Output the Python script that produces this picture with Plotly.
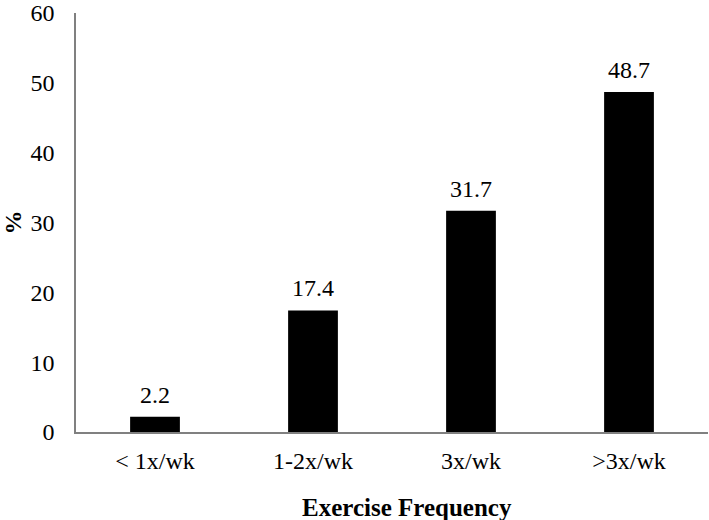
import plotly.graph_objects as go

categories = ["< 1x/wk", "1-2x/wk", "3x/wk", ">3x/wk"]
values = [2.2, 17.4, 31.7, 48.7]
y_ticks = [0, 10, 20, 30, 40, 50, 60]

FONT = "Liberation Serif"

fig = go.Figure()
fig.add_trace(go.Bar(
    x=categories, y=values,
    marker=dict(color="black", line=dict(width=0)),
    showlegend=False,
))

for c, v in zip(categories, values):
    fig.add_annotation(x=c, y=v, text=f"{v:.1f}", showarrow=False,
                       yanchor="bottom", yshift=7,
                       font=dict(family=FONT, size=24, color="black"))

# x-axis title (placed as an annotation, slightly right of plot centre as in the reference)
fig.add_annotation(xref="paper", yref="paper", x=0.5245, y=0,
                   text="<b>Exercise Frequency</b>", showarrow=False,
                   xanchor="center", yanchor="middle", yshift=-75,
                   font=dict(family=FONT, size=25, color="black"))

fig.update_layout(
    width=709, height=520,
    margin=dict(l=76, r=1, t=13, b=88),
    paper_bgcolor="white", plot_bgcolor="white",
    bargap=0.685,
    font=dict(family=FONT, size=24, color="black"),
    xaxis=dict(
        automargin=False,
        showline=True, linecolor="#808080", linewidth=1.5,
        showgrid=False, ticks="", ticklabelstandoff=6,
        tickfont=dict(family=FONT, size=24, color="black"),
    ),
    yaxis=dict(
        automargin=False,
        range=[0, 60], tickvals=y_ticks,
        showline=True, linecolor="#808080", linewidth=1.5,
        showgrid=False, zeroline=False, ticks="", ticklabelstandoff=15,
        ticklabeloverflow="allow",
        tickfont=dict(family=FONT, size=24, color="black"),
        title=dict(text="<b>%</b>", standoff=12,
                   font=dict(family=FONT, size=24, color="black")),
    ),
)

# remove the page's default body margin so the figure sits at the window's top-left
fig.write_html("out.html", config={"displayModeBar": False},
               post_script="document.body.style.margin='0';")
